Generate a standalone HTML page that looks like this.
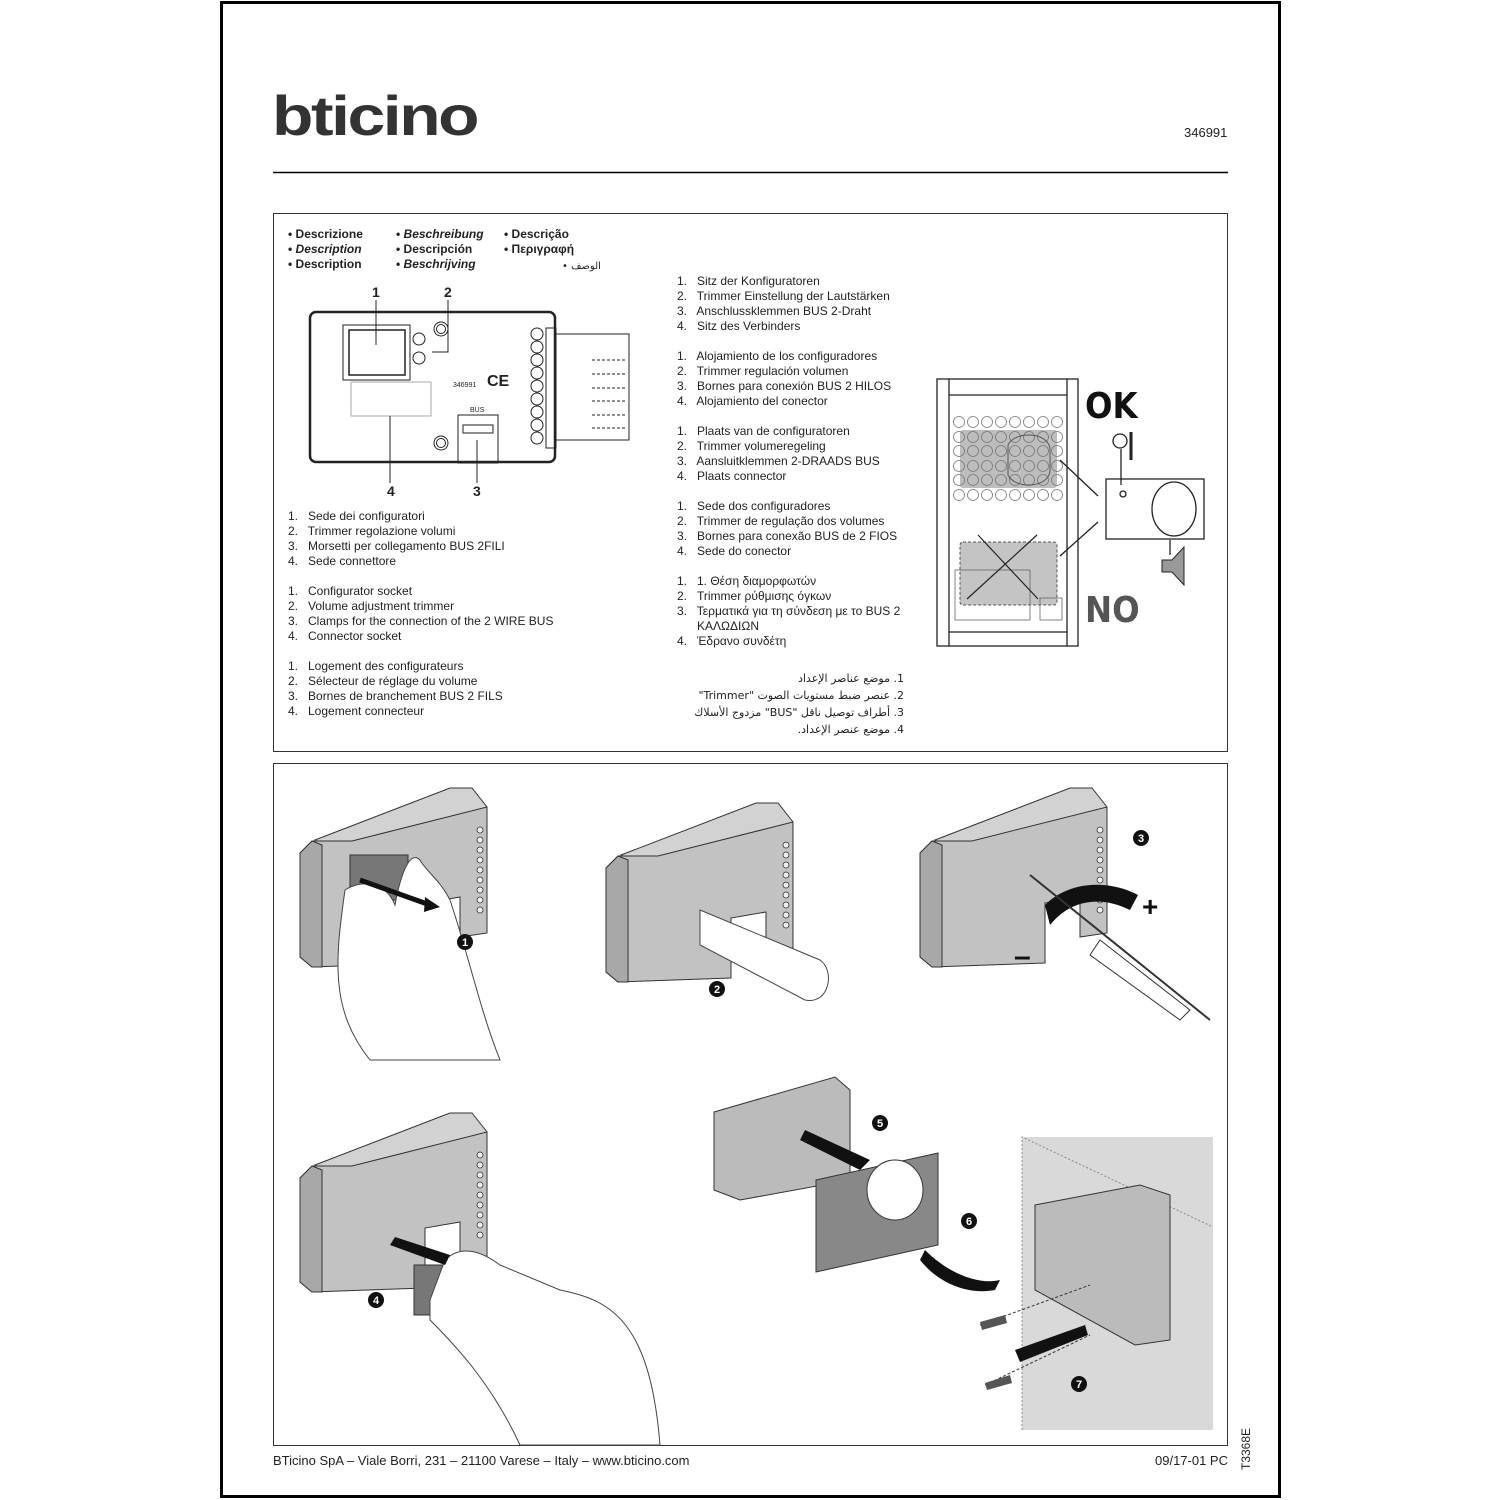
<!DOCTYPE html>
<html><head><meta charset="utf-8"><style>
html,body{margin:0;padding:0;background:#fff}
body{width:1500px;height:1500px;position:relative;overflow:hidden;font-family:"Liberation Sans","DejaVu Sans",sans-serif;color:#222}
.t{position:absolute;font-size:12px;line-height:15px;white-space:nowrap}
</style></head><body>
<svg width="1500" height="1500" style="position:absolute;left:0;top:0" xmlns="http://www.w3.org/2000/svg">
<defs>
<g id="dev">
 <polygon points="15,55 150,3 172,3 187,22 187,60 40,70" fill="#d2d2d2" stroke="#333" stroke-width="1"/>
 <polygon points="0,68 12,56 52,56 187,22 187,148 160,152 160,112 125,118 125,178 12,182 0,172" fill="#c2c2c2" stroke="#333" stroke-width="1"/>
 <polygon points="0,68 12,56 22,60 22,182 12,182 0,172" fill="#a8a8a8" stroke="#333" stroke-width="1"/>
 <g fill="#eee" stroke="#333" stroke-width="0.8">
  <circle cx="180" cy="45" r="3"/><circle cx="180" cy="55" r="3"/><circle cx="180" cy="65" r="3"/><circle cx="180" cy="75" r="3"/><circle cx="180" cy="85" r="3"/><circle cx="180" cy="95" r="3"/><circle cx="180" cy="105" r="3"/><circle cx="180" cy="115" r="3"/><circle cx="180" cy="125" r="3"/>
 </g>
</g>
<g id="row" fill="none" stroke="#777" stroke-width="0.8">
 <circle cx="959" cy="0" r="5.5"/><circle cx="973" cy="0" r="5.5"/><circle cx="987" cy="0" r="5.5"/><circle cx="1001" cy="0" r="5.5"/><circle cx="1015" cy="0" r="5.5"/><circle cx="1029" cy="0" r="5.5"/><circle cx="1043" cy="0" r="5.5"/><circle cx="1057" cy="0" r="5.5"/>
</g>
</defs>
<rect x="221.5" y="2.5" width="1058" height="1494" fill="none" stroke="#000" stroke-width="3"/>
<line x1="273" y1="172.5" x2="1228" y2="172.5" stroke="#000" stroke-width="1.5"/>
<rect x="273.5" y="213.5" width="954" height="538" fill="none" stroke="#333" stroke-width="1"/>
<rect x="273.5" y="763.5" width="954" height="682" fill="none" stroke="#333" stroke-width="1"/>

<g stroke="#222" fill="none" stroke-width="1">
 <rect x="310" y="312" width="245" height="150" rx="6" stroke-width="2.5"/>
 <rect x="343" y="325" width="67" height="55"/>
 <rect x="349" y="330" width="56" height="45" stroke-width="1.5"/>
 <circle cx="441" cy="329" r="7"/><circle cx="441" cy="329" r="4.5"/>
 <circle cx="419" cy="339" r="6"/><circle cx="419" cy="358" r="6"/>
 <circle cx="441" cy="443" r="7"/><circle cx="441" cy="443" r="4.5"/>
 <rect x="351" y="382" width="80" height="34" stroke="#aaa"/>
 <rect x="458" y="415" width="40" height="48"/>
 <rect x="463" y="425" width="30" height="8"/>
 <g>
  <circle cx="537" cy="334" r="6"/><circle cx="537" cy="347" r="6"/><circle cx="537" cy="360" r="6"/><circle cx="537" cy="373" r="6"/><circle cx="537" cy="386" r="6"/><circle cx="537" cy="399" r="6"/><circle cx="537" cy="412" r="6"/><circle cx="537" cy="425" r="6"/><circle cx="537" cy="438" r="6"/>
 </g>
 <rect x="546" y="328" width="10" height="120"/>
 <polyline points="556,334 629,334 629,440 556,440"/>
 <line x1="376" y1="300" x2="376" y2="345"/>
 <polyline points="448,300 448,352 432,352"/>
 <line x1="390" y1="416" x2="390" y2="483"/>
 <line x1="477" y1="440" x2="477" y2="483"/>
 <g stroke-dasharray="3,2"><line x1="592" y1="360" x2="625" y2="360"/><line x1="592" y1="374" x2="625" y2="374"/><line x1="592" y1="388" x2="625" y2="388"/><line x1="592" y1="401" x2="625" y2="401"/><line x1="592" y1="415" x2="625" y2="415"/><line x1="592" y1="428" x2="625" y2="428"/></g>
</g>
<g font-size="14" font-weight="bold" fill="#222">
 <text x="372" y="297">1</text><text x="444" y="297">2</text><text x="387" y="496">4</text><text x="473" y="496">3</text>
 <text x="487" y="386" font-size="16">CE</text>
</g>
<text x="453" y="387" font-size="7" fill="#222">346991</text>
<text x="470" y="412" font-size="7" fill="#222">BUS</text>

<g stroke="#222" fill="none" stroke-width="1.3">
 <rect x="937" y="379" width="141" height="267"/>
 <line x1="949" y1="379" x2="949" y2="646"/><line x1="1067" y1="379" x2="1067" y2="646"/>
 <line x1="949" y1="395" x2="1067" y2="395"/><line x1="949" y1="632" x2="1067" y2="632"/>
</g>
<rect x="960" y="430" width="97" height="58" fill="#bdbdbd" rx="3"/>
<use href="#row" transform="translate(0,422)"/><use href="#row" transform="translate(0,437)"/><use href="#row" transform="translate(0,451)"/><use href="#row" transform="translate(0,466)"/><use href="#row" transform="translate(0,480)"/><use href="#row" transform="translate(0,495)"/>
<path d="M1008,445 C1015,430 1050,432 1050,450 L1050,470 C1050,488 1015,490 1008,475Z" fill="none" stroke="#555"/>
<rect x="960" y="542" width="97" height="63" fill="#c4c4c4" stroke="#555" stroke-dasharray="3,2" rx="3"/>
<g stroke="#666" fill="none" stroke-width="0.8">
 <rect x="955" y="570" width="75" height="50"/><rect x="1040" y="598" width="22" height="22"/>
 <line x1="967" y1="599" x2="1037" y2="535" stroke="#222" stroke-width="1.2"/><line x1="978" y1="535" x2="1038" y2="599" stroke="#222" stroke-width="1.2"/>
</g>
<g stroke="#222" stroke-width="1.3" fill="none">
 <line x1="1098" y1="496" x2="1060" y2="460"/><line x1="1098" y1="522" x2="1060" y2="556"/>
 <rect x="1106" y="479" width="98" height="60"/>
 <ellipse cx="1174" cy="509" rx="22" ry="27"/>
 <circle cx="1123" cy="494" r="3"/>
 <circle cx="1120" cy="441" r="7"/><line x1="1131" y1="432" x2="1131" y2="460" stroke-width="3"/>
 <line x1="1121" y1="449" x2="1121" y2="485"/>
 <line x1="1170" y1="555" x2="1170" y2="540"/>
</g>
<polygon points="1162,560 1172,560 1184,547 1184,585 1172,572 1162,572" fill="#999" stroke="#222"/>
<text x="1085" y="418" font-size="36" font-weight="bold" fill="#111" font-family="DejaVu Sans Condensed,Liberation Sans Narrow,sans-serif">OK</text>
<text x="1085" y="622" font-size="36" font-weight="bold" fill="#555" font-family="DejaVu Sans Condensed,Liberation Sans Narrow,sans-serif">NO</text>

<use href="#dev" transform="translate(300,785)"/>
<rect x="350" y="855" width="58" height="45" fill="#777" stroke="#333"/>
<path d="M345,890 C335,960 330,1010 370,1060 L500,1060 C480,1010 470,960 450,900 C440,880 425,870 420,860 C405,845 395,905 395,905 C385,880 360,880 345,890Z" fill="#fff" stroke="#444"/>
<path d="M360,880 L430,905" stroke="#111" stroke-width="5"/>
<polygon points="425,897 440,907 424,912" fill="#111"/>
<use href="#dev" transform="translate(606,800)"/>
<path d="M700,910 L820,960 C835,970 830,1005 805,1000 L700,945Z" fill="#fff" stroke="#444"/>
<use href="#dev" transform="translate(920,785)"/>
<path d="M1045,905 C1070,880 1110,880 1138,895 L1130,910 C1100,895 1070,900 1050,925Z" fill="#111"/>
<path d="M1030,875 L1210,1020" stroke="#333" stroke-width="2"/>
<path d="M1100,940 L1190,1010 L1180,1020 L1090,955Z" fill="#fff" stroke="#333"/>
<text x="1142" y="916" font-size="28" font-weight="bold" fill="#111">+</text>
<text x="1014" y="966" font-size="30" font-weight="bold" fill="#111">–</text>
<use href="#dev" transform="translate(300,1110)"/>
<rect x="414" y="1265" width="38" height="50" fill="#777" stroke="#333"/>
<path d="M430,1300 L445,1260 C460,1245 480,1250 500,1265 L560,1290 C610,1300 650,1320 660,1445 L520,1445 C490,1380 450,1340 430,1320Z" fill="#fff" stroke="#444"/>
<polygon points="395,1237 450,1255 445,1265 390,1245" fill="#111"/>
<rect x="1022" y="1137" width="191" height="293" fill="#d9d9d9"/>
<polyline points="1022,1430 1022,1137 1213,1227" fill="none" stroke="#888" stroke-dasharray="2,2"/>
<polygon points="714,1112 835,1077 850,1090 850,1180 740,1200 714,1190" fill="#bbb" stroke="#333"/>
<polygon points="816,1180 938,1153 938,1245 816,1272" fill="#888" stroke="#333"/>
<ellipse cx="895" cy="1190" rx="28" ry="30" fill="#fff" stroke="#333"/>
<polygon points="805,1130 870,1160 860,1170 800,1140" fill="#111"/>
<path d="M925,1250 C950,1275 980,1285 1000,1280 L995,1290 C970,1295 940,1285 920,1260Z" fill="#111"/>
<polygon points="1035,1205 1140,1185 1170,1195 1170,1340 1135,1345 1035,1290" fill="#bbb" stroke="#333"/>
<polygon points="1015,1350 1085,1325 1088,1335 1020,1362" fill="#111"/>
<line x1="980" y1="1325" x2="1090" y2="1285" stroke="#333" stroke-dasharray="3,2"/>
<line x1="985" y1="1385" x2="1090" y2="1335" stroke="#333" stroke-dasharray="3,2"/>
<path d="M980,1322 L1005,1315 L1007,1323 L982,1330Z" fill="#555"/>
<path d="M985,1383 L1010,1375 L1012,1383 L987,1390Z" fill="#555"/>
<g font-size="11" font-weight="bold" fill="#fff" text-anchor="middle">
 <circle cx="465" cy="942" r="8" fill="#111"/><text x="465" y="946">1</text>
 <circle cx="717" cy="989" r="8" fill="#111"/><text x="717" y="993">2</text>
 <circle cx="1141" cy="838" r="8" fill="#111"/><text x="1141" y="842">3</text>
 <circle cx="376" cy="1300" r="8" fill="#111"/><text x="376" y="1304">4</text>
 <circle cx="880" cy="1123" r="8" fill="#111"/><text x="880" y="1127">5</text>
 <circle cx="969" cy="1221" r="8" fill="#111"/><text x="969" y="1225">6</text>
 <circle cx="1079" cy="1384" r="8" fill="#111"/><text x="1079" y="1388">7</text>
</g>
<text x="1250" y="1470" font-size="12" fill="#222" transform="rotate(-90 1250 1470)">T3368E</text>
</svg>

<div class="t" style="left:272px;top:86px;font-size:56px;line-height:60px;font-weight:900;letter-spacing:-2px;color:#333;transform:scaleX(1.21);transform-origin:0 0">bticino</div>
<div class="t" style="left:1184px;top:125px;font-size:13px">346991</div>

<div class="t" style="left:288px;top:227px;font-weight:bold">• Descrizione<br>• <i>Description</i><br>• Description</div>
<div class="t" style="left:396px;top:227px;font-weight:bold">• <i>Beschreibung</i><br>• Descripción<br>• <i>Beschrijving</i></div>
<div class="t" style="left:504px;top:227px;font-weight:bold">• Descrição<br>• Περιγραφή</div>
<div class="t" style="left:562px;top:259px;font-size:10px;font-family:'DejaVu Sans',sans-serif">• الوصف</div>

<div class="t" style="left:288px;top:509px">1.&nbsp;&nbsp; Sede dei configuratori<br>2.&nbsp;&nbsp; Trimmer regolazione volumi<br>3.&nbsp;&nbsp; Morsetti per collegamento BUS 2FILI<br>4.&nbsp;&nbsp; Sede connettore<br><br>
1.&nbsp;&nbsp; Configurator socket<br>2.&nbsp;&nbsp; Volume adjustment trimmer<br>3.&nbsp;&nbsp; Clamps for the connection of the 2 WIRE BUS<br>4.&nbsp;&nbsp; Connector socket<br><br>
1.&nbsp;&nbsp; Logement des configurateurs<br>2.&nbsp;&nbsp; Sélecteur de réglage du volume<br>3.&nbsp;&nbsp; Bornes de branchement BUS 2 FILS<br>4.&nbsp;&nbsp; Logement connecteur</div>

<div class="t" style="left:677px;top:274px">1.&nbsp;&nbsp; Sitz der Konfiguratoren<br>2.&nbsp;&nbsp; Trimmer Einstellung der Lautstärken<br>3.&nbsp;&nbsp; Anschlussklemmen BUS 2-Draht<br>4.&nbsp;&nbsp; Sitz des Verbinders<br><br>
1.&nbsp;&nbsp; Alojamiento de los configuradores<br>2.&nbsp;&nbsp; Trimmer regulación volumen<br>3.&nbsp;&nbsp; Bornes para conexión BUS 2 HILOS<br>4.&nbsp;&nbsp; Alojamiento del conector<br><br>
1.&nbsp;&nbsp; Plaats van de configuratoren<br>2.&nbsp;&nbsp; Trimmer volumeregeling<br>3.&nbsp;&nbsp; Aansluitklemmen 2-DRAADS BUS<br>4.&nbsp;&nbsp; Plaats connector<br><br>
1.&nbsp;&nbsp; Sede dos configuradores<br>2.&nbsp;&nbsp; Trimmer de regulação dos volumes<br>3.&nbsp;&nbsp; Bornes para conexão BUS de 2 FIOS<br>4.&nbsp;&nbsp; Sede do conector<br><br>
1.&nbsp;&nbsp; 1. Θέση διαμορφωτών<br>2.&nbsp;&nbsp; Trimmer ρύθμισης όγκων<br>3.&nbsp;&nbsp; Τερματικά για τη σύνδεση με το BUS 2<br>&nbsp;&nbsp;&nbsp;&nbsp;&nbsp; ΚΑΛΩΔΙΩΝ<br>4.&nbsp;&nbsp; Έδρανο συνδέτη</div>

<div class="t" style="left:700px;top:670px;width:204px;text-align:right;font-size:11px;line-height:17px;font-family:'DejaVu Sans',sans-serif" dir="rtl">1. موضع عناصر الإعداد<br>2. عنصر ضبط مستويات الصوت "Trimmer"<br>3. أطراف توصيل ناقل "BUS" مزدوج الأسلاك<br>4. موضع عنصر الإعداد.</div>

<div class="t" style="left:273px;top:1453px;font-size:13px">BTicino SpA – Viale Borri, 231 – 21100 Varese – Italy – www.bticino.com</div>
<div class="t" style="left:1155px;top:1453px;font-size:13px">09/17-01 PC</div>
</body></html>
